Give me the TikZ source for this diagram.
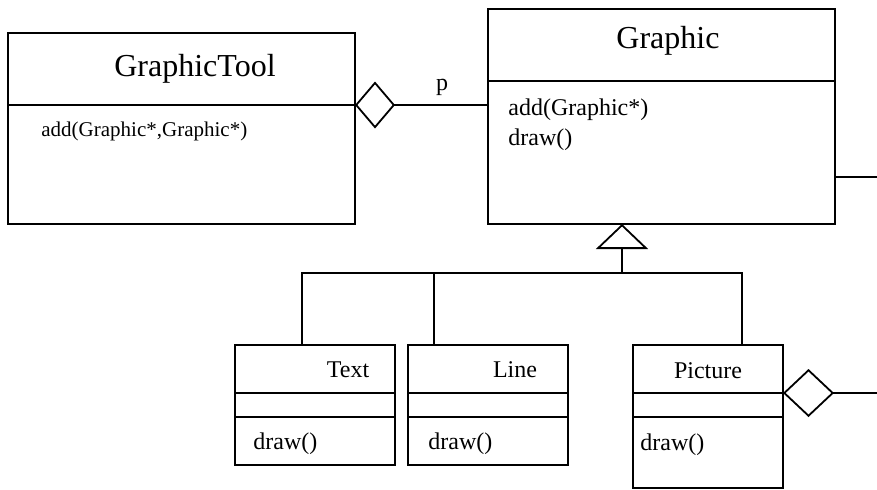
\documentclass[tikz,border=0pt]{standalone}
\usepackage{fontspec}
\setmainfont{Liberation Serif}
\usetikzlibrary{arrows.meta,positioning}
\tikzset{
part/.style={draw=black,line width=0.9pt,inner sep=0pt,outer sep=0pt,anchor=north west},
bigname/.style={font=\fontsize{16}{19}\selectfont,inner sep=0pt},
smallname/.style={font=\fontsize{12}{14}\selectfont,inner sep=0pt},
op/.style={font=\fontsize{12}{14}\selectfont,inner sep=0pt,anchor=west},
smallop/.style={font=\fontsize{10.5}{12}\selectfont,inner sep=0pt,anchor=west},
link/.style={line width=0.9pt}
}

\begin{document}
\begin{tikzpicture}[x=0.5pt,y=-0.5pt]
\useasboundingbox (0,0) rectangle (877,489);

\begin{scope}
\node[part,minimum width=173.5pt,minimum height=36pt] (tool) at (8,33) {};
\node[part,minimum width=173.5pt,minimum height=59.5pt,below=0pt of tool] (tool-ops) {};
\node[bigname] (tool-name) at (195,69) {GraphicTool};
\node[smallop] (tool-add) at (41,131) {add(Graphic*,Graphic*)};
\end{scope}

\begin{scope}
\node[part,minimum width=173.5pt,minimum height=36pt] (graphic) at (488,9) {};
\node[part,minimum width=173.5pt,minimum height=71.5pt,below=0pt of graphic] (graphic-ops) {};
\node[bigname] (graphic-name) at (668,41) {Graphic};
\node[op] (graphic-add) at (508,110) {add(Graphic*)};
\node[op] (graphic-draw) at (508,140) {draw()};
\end{scope}

\begin{scope}
\node[part,minimum width=80pt,minimum height=24pt] (text) at (235,345) {};
\node[part,minimum width=80pt,minimum height=12pt,below=0pt of text] (text-att) {};
\node[part,minimum width=80pt,minimum height=24pt,below=0pt of text-att] (text-ops) {};
\node[smallname] (text-name) at (348,370) {Text};
\node[op] (text-draw) at (253,444) {draw()};
\end{scope}

\begin{scope}
\node[part,minimum width=80pt,minimum height=24pt] (line) at (408,345) {};
\node[part,minimum width=80pt,minimum height=12pt,below=0pt of line] (line-att) {};
\node[part,minimum width=80pt,minimum height=24pt,below=0pt of line-att] (line-ops) {};
\node[smallname] (line-name) at (515,370) {Line};
\node[op] (line-draw) at (428,444) {draw()};
\end{scope}

\begin{scope}
\node[part,minimum width=75pt,minimum height=24pt] (picture) at (633,345) {};
\node[part,minimum width=75pt,minimum height=12pt,below=0pt of picture] (picture-att) {};
\node[part,minimum width=75pt,minimum height=35.5pt,below=0pt of picture-att] (picture-ops) {};
\node[smallname] (picture-name) at (708,371) {Picture};
\node[op] (picture-draw) at (640,445) {draw()};
\end{scope}

\draw[link,{Diamond[open,length=20pt,width=23.5pt]}-] (tool.south east) -- (tool.south east -| graphic-ops.west);
\node[smallname] (role) at (442,87) {p};

\coordinate (graphic-end) at (877,177);
\draw[link] (graphic-ops.east |- graphic-end) -- (graphic-end);

\coordinate (gen) at (622,273);
\draw[link,-{Triangle[open,length=12.5pt,width=26pt]}] (gen) -- (gen |- graphic-ops.south);
\draw[link] ([xshift=-6.5pt]text.north) |- (gen) -| ([xshift=17pt]picture.north);
\draw[link] ([xshift=-27pt]line.north) -- ([xshift=-27pt]line.north |- gen);

\coordinate (picture-end) at (877,393);
\draw[link,{Diamond[open,length=25.5pt,width=24pt]}-] (picture.south east) -- (picture-end);

\end{tikzpicture}
\end{document}
